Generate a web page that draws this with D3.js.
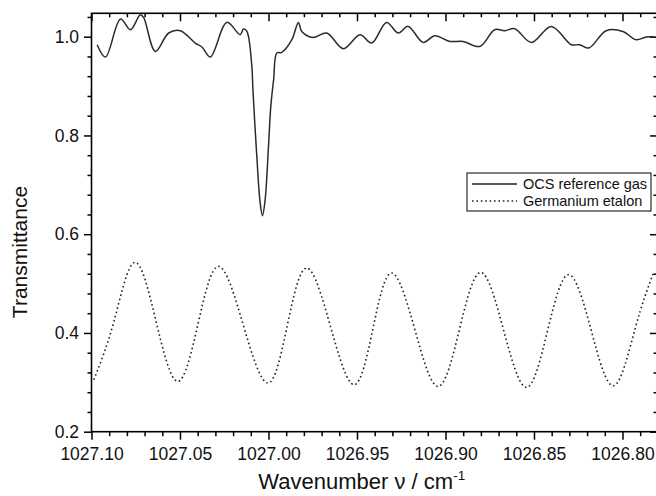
<!DOCTYPE html>
<html>
<head>
<meta charset="utf-8">
<script src="https://cdn.jsdelivr.net/npm/d3@7"></script>
<style>
    body { margin: 0; background: #fff; }
    svg { display: block; font-family: Arial, "Liberation Sans", sans-serif; }
</style>
</head>
<body>
<svg id="chart" width="656" height="496"></svg>
<script>
// OCS reference gas trace
var ocsWavenumber = [1027.0968, 1027.0921, 1027.0836, 1027.0780, 1027.0724, 1027.0705, 1027.0639, 1027.0564,
    1027.0498, 1027.0414, 1027.0376, 1027.0329, 1027.0235, 1027.0160, 1027.0141, 1027.0122, 1027.0094,
    1027.0088, 1027.0066, 1027.0047, 1027.0034, 1027.0019, 1027.0000, 1026.9987, 1026.9971, 1026.9953,
    1026.9925, 1026.9868, 1026.9831, 1026.9812, 1026.9746, 1026.9671, 1026.9577, 1026.9483, 1026.9417,
    1026.9333, 1026.9267, 1026.9211, 1026.9126, 1026.9060, 1026.8976, 1026.8901, 1026.8806, 1026.8722,
    1026.8665, 1026.8609, 1026.8515, 1026.8402, 1026.8289, 1026.8242, 1026.8190, 1026.8092, 1026.7998,
    1026.7923, 1026.7866, 1026.7818];
var ocsTransmittance = [0.9838, 0.9589, 1.0358, 1.0142, 1.0446, 1.0385, 0.9702, 1.0075,
    1.0122, 0.9872, 0.9791, 0.9589, 1.0290, 1.0041, 1.0156, 1.0107, 0.9399,
    0.8927, 0.7576, 0.6632, 0.6375, 0.6699, 0.7778, 0.8589, 0.9129, 0.9670,
    0.9682, 0.9939, 1.0290, 1.0107, 0.9986, 1.0075, 0.9757, 1.0041, 0.9872,
    1.0290, 1.0075, 1.0209, 0.9885, 1.0020, 0.9905, 0.9905, 0.9803, 1.0142,
    1.0122, 1.0162, 0.9885, 1.0209, 0.9838, 0.9838, 0.9771, 1.0122, 1.0107,
    0.9939, 0.9994, 0.9994];

// Germanium etalon fringes
var etalonWavenumber = [1027.0987, 1027.0873, 1027.0756, 1027.0635, 1027.0513, 1027.0398, 1027.0282,
    1027.0143, 1027.0004, 1026.9894, 1026.9784, 1026.9650, 1026.9517, 1026.9410, 1026.9304, 1026.9173,
    1026.9042, 1026.8921, 1026.8801, 1026.8672, 1026.8543, 1026.8424, 1026.8305, 1026.8177, 1026.8049,
    1026.7927, 1026.7826];
var etalonTransmittance = [0.3053, 0.4238, 0.5429, 0.4228, 0.3019, 0.4187, 0.5348,
    0.4167, 0.2986, 0.4151, 0.5315, 0.4133, 0.2952, 0.4086, 0.5214, 0.4066,
    0.2917, 0.4072, 0.5226, 0.4062, 0.2897, 0.4037, 0.5180, 0.4056, 0.2932,
    0.4110, 0.5208];

var xTicks = [1027.10, 1027.05, 1027.00, 1026.95, 1026.90, 1026.85, 1026.80];
var yTicks = [0.2, 0.4, 0.6, 0.8, 1.0];
var legendLabels = ["OCS reference gas", "Germanium etalon"];

var plotLeft = 91.5, plotRight = 657, plotTop = 13.3, plotBottom = 431.7;

var svg = d3.select("#chart");

var x = d3.scaleLinear().domain([1027.10, 1026.7805]).range([plotLeft, plotRight]);
var y = d3.scaleLinear().domain([0.2, 1.0474]).range([plotBottom, plotTop]);

var xMinor = d3.range(1026.79, 1027.1001, 0.01).filter(function (v) {
    return xTicks.every(function (t) { return Math.abs(t - v) > 1e-6; });
});
var yMinor = d3.range(0.24, 1.047, 0.04).filter(function (v) {
    return yTicks.every(function (t) { return Math.abs(t - v) > 1e-6; });
});

function styleAxis(g) {
    g.select(".domain").remove();
    g.selectAll("line").attr("stroke", "#000").attr("stroke-width", 1.5);
    g.selectAll("text").attr("fill", "#111").style("font-size", "17.5px");
}

// bottom + left axes, ticks outward
svg.append("g").attr("transform", "translate(0," + plotBottom + ")")
    .call(d3.axisBottom(x).tickValues(xTicks).tickSize(8).tickPadding(8).tickFormat(d3.format(".2f")))
    .call(styleAxis);
svg.append("g").attr("transform", "translate(0," + plotBottom + ")")
    .call(d3.axisBottom(x).tickValues(xMinor).tickSize(4.5).tickFormat(""))
    .call(styleAxis);
svg.append("g").attr("transform", "translate(" + plotLeft + ",0)")
    .call(d3.axisLeft(y).tickValues(yTicks).tickSize(7.5).tickPadding(5).tickFormat(d3.format(".1f")))
    .call(styleAxis);
svg.append("g").attr("transform", "translate(" + plotLeft + ",0)")
    .call(d3.axisLeft(y).tickValues(yMinor).tickSize(4).tickFormat(""))
    .call(styleAxis);

// top + right mirror axes, ticks inward
svg.append("g").attr("transform", "translate(0," + plotTop + ")")
    .call(d3.axisBottom(x).tickValues(xTicks).tickSize(8).tickFormat(""))
    .call(styleAxis);
svg.append("g").attr("transform", "translate(0," + plotTop + ")")
    .call(d3.axisBottom(x).tickValues(xMinor).tickSize(4).tickFormat(""))
    .call(styleAxis);
svg.append("g").attr("transform", "translate(" + plotRight + ",0)")
    .call(d3.axisLeft(y).tickValues(yTicks).tickSize(7).tickFormat(""))
    .call(styleAxis);
svg.append("g").attr("transform", "translate(" + plotRight + ",0)")
    .call(d3.axisLeft(y).tickValues(yMinor).tickSize(3.5).tickFormat(""))
    .call(styleAxis);

svg.append("rect")
    .attr("x", plotLeft).attr("y", plotTop)
    .attr("width", plotRight - plotLeft).attr("height", plotBottom - plotTop)
    .attr("fill", "none").attr("stroke", "#000").attr("stroke-width", 1.6);

svg.append("defs").append("clipPath").attr("id", "plot")
    .append("rect").attr("x", plotLeft).attr("y", plotTop - 2)
    .attr("width", plotRight - plotLeft).attr("height", plotBottom - plotTop + 2);

var line = d3.line()
    .x(function (d) { return x(d[0]); })
    .y(function (d) { return y(d[1]); });

var ocs = d3.zip(ocsWavenumber, ocsTransmittance);
var etalon = d3.zip(etalonWavenumber, etalonTransmittance);

svg.append("path")
    .datum(ocs)
    .attr("clip-path", "url(#plot)")
    .attr("fill", "none")
    .attr("stroke", "#2b2b2b")
    .attr("stroke-width", 1.5)
    .attr("d", line.curve(d3.curveCatmullRom.alpha(0.5)));

svg.append("path")
    .datum(etalon)
    .attr("clip-path", "url(#plot)")
    .attr("fill", "none")
    .attr("stroke", "#222")
    .attr("stroke-width", 1.6)
    .attr("stroke-dasharray", "1.6,2.8")
    .attr("d", line.curve(d3.curveNatural));

// legend
var legend = svg.append("g").attr("transform", "translate(467,173)");
legend.append("rect")
    .attr("width", 184).attr("height", 38)
    .attr("fill", "#fff").attr("stroke", "#000").attr("stroke-width", 1);
var item = legend.selectAll("g.item")
    .data(legendLabels)
    .enter()
    .append("g")
    .attr("class", "item")
    .attr("transform", function (d, i) { return "translate(0," + (11 + i * 17) + ")"; });
item.append("line")
    .attr("x1", 5).attr("x2", 50)
    .attr("stroke", "#222").attr("stroke-width", 1.5)
    .attr("stroke-dasharray", function (d, i) { return i ? "1.6,2.8" : null; });
item.append("text")
    .attr("x", 56).attr("dy", "0.35em")
    .style("font-size", "14.5px").attr("fill", "#111")
    .text(function (d) { return d; });

// axis titles
var xTitle = svg.append("text")
    .attr("x", (plotLeft + 656) / 2 - 12).attr("y", 489)
    .attr("text-anchor", "middle")
    .style("font-size", "22px").attr("fill", "#111");
xTitle.append("tspan").text("Wavenumber \u03bd / cm");
xTitle.append("tspan").attr("dy", -9).style("font-size", "13.5px").text("-1");

svg.append("text")
    .attr("transform", "translate(27,252) rotate(-90)")
    .attr("text-anchor", "middle")
    .style("font-size", "21px").attr("fill", "#111")
    .text("Transmittance");
</script>
</body>
</html>
